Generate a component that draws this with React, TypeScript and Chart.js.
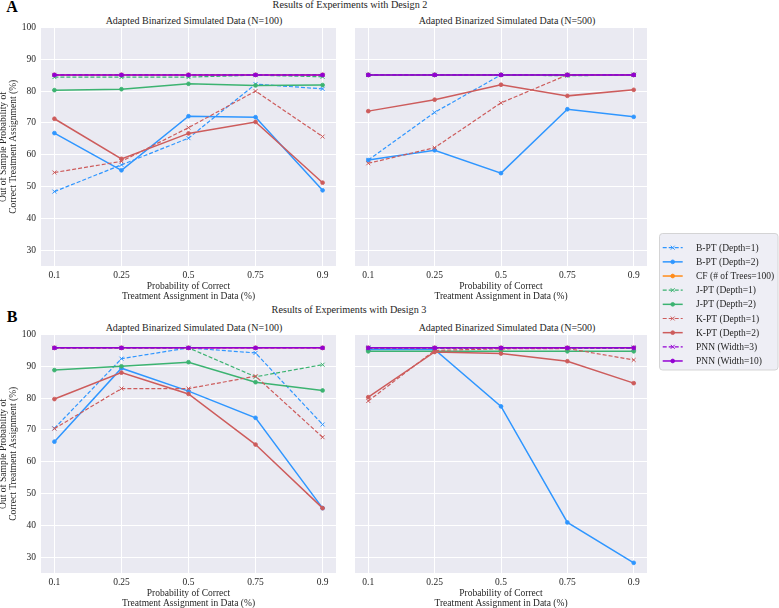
import { useEffect, useRef } from 'react';
import { Chart, registerables } from 'chart.js';

Chart.register(...registerables);

// x categories: probability of correct treatment assignment in the data
const probabilities = ['0.1', '0.25', '0.5', '0.75', '0.9'];
const yTickValues = [30, 40, 50, 60, 70, 80, 90, 100];

// ---- Design 2, N=100 ----
const d2n100BPT1 = [48.4, 56.8, 65.2, 82.2, 80.7];
const d2n100BPT2 = [66.8, 55.1, 72.1, 71.8, 48.8];
const d2n100CF = [85.1, 85.1, 85.1, 85.1, 85.1];
const d2n100JPT1 = [84.4, 84.4, 84.4, 85.0, 84.5];
const d2n100JPT2 = [80.3, 80.6, 82.3, 81.8, 81.9];
const d2n100KPT1 = [54.4, 57.9, 68.5, 80.0, 65.7];
const d2n100KPT2 = [71.3, 58.7, 66.7, 70.3, 51.2];
const d2n100PNN3 = [85.1, 85.1, 85.1, 85.1, 85.1];
const d2n100PNN10 = [85.1, 85.1, 85.1, 85.1, 85.1];

// ---- Design 2, N=500 ----
const d2n500BPT1 = [58.3, 73.3, 85.1, 85.1, 85.1];
const d2n500BPT2 = [58.3, 61.4, 54.2, 74.3, 71.9];
const d2n500CF = [85.1, 85.1, 85.1, 85.1, 85.1];
const d2n500JPT1 = [85.1, 85.1, 85.1, 84.8, 85.1];
const d2n500JPT2 = [85.1, 85.1, 85.1, 85.1, 85.1];
const d2n500KPT1 = [57.3, 62.2, 76.3, 85.1, 85.1];
const d2n500KPT2 = [73.7, 77.3, 82.0, 78.5, 80.4];
const d2n500PNN3 = [85.1, 85.1, 85.1, 85.1, 85.1];
const d2n500PNN10 = [85.1, 85.1, 85.1, 85.1, 85.1];

// ---- Design 3, N=100 ----
const d3n100BPT1 = [70.5, 92.4, 95.8, 94.2, 71.7];
const d3n100BPT2 = [66.3, 89.4, 82.2, 73.8, 45.4];
const d3n100CF = [95.8, 95.8, 95.8, 95.8, 95.8];
const d3n100JPT1 = [95.8, 95.8, 95.8, 86.7, 90.5];
const d3n100JPT2 = [88.8, 90.0, 91.3, 85.0, 82.4];
const d3n100KPT1 = [70.4, 83.0, 83.0, 86.9, 67.7];
const d3n100KPT2 = [79.7, 88.0, 81.3, 65.4, 45.4];
const d3n100PNN3 = [95.8, 95.8, 95.8, 95.8, 95.8];
const d3n100PNN10 = [95.8, 95.8, 95.8, 95.8, 95.8];

// ---- Design 3, N=500 ----
const d3n500BPT1 = [95.8, 95.8, 95.8, 95.8, 95.8];
const d3n500BPT2 = [95.3, 95.3, 77.4, 40.9, 28.2];
const d3n500CF = [95.8, 95.8, 95.8, 95.8, 95.8];
const d3n500JPT1 = [95.6, 95.6, 95.6, 95.6, 95.6];
const d3n500JPT2 = [94.7, 94.7, 94.7, 94.7, 94.7];
const d3n500KPT1 = [79.1, 95.0, 95.5, 95.6, 92.0];
const d3n500KPT2 = [80.3, 94.5, 94.0, 91.6, 84.7];
const d3n500PNN3 = [95.8, 95.8, 95.8, 95.8, 95.8];
const d3n500PNN10 = [95.8, 95.8, 95.8, 95.8, 95.8];

const methodNames = [
  'B-PT (Depth=1)',
  'B-PT (Depth=2)',
  'CF (# of Trees=100)',
  'J-PT (Depth=1)',
  'J-PT (Depth=2)',
  'K-PT (Depth=1)',
  'K-PT (Depth=2)',
  'PNN (Width=3)',
  'PNN (Width=10)',
];

const methodColors = ['#2f96ff', '#2f96ff', '#ff8c1a', '#3cb371', '#3cb371', '#cd5c5c', '#cd5c5c', '#9400d3', '#9400d3'];
const methodDashed = [true, false, false, true, false, true, false, true, false];

const SERIF = '"Liberation Serif", "Times New Roman", serif';
const TEXT = '#262626';
const FACE = '#eaeaf2';

function buildDatasets(series: number[][]) {
  return series.map((values, i) => {
    const dashed = methodDashed[i];
    return {
      label: methodNames[i],
      data: values.map((v, j) => ({ x: j, y: v })),
      borderColor: methodColors[i],
      backgroundColor: methodColors[i],
      pointBackgroundColor: methodColors[i],
      pointBorderColor: methodColors[i],
      borderWidth: dashed ? 1.2 : 1.5,
      borderDash: dashed ? [4, 2] : [],
      pointStyle: dashed ? 'crossRot' : 'circle',
      pointRadius: dashed ? 2.8 : 1.9,
      pointBorderWidth: dashed ? 1 : 0.8,
      tension: 0,
      fill: false,
      order: series.length - i,
    };
  });
}

// paints the axes face behind grid and lines
const facePlugin = {
  id: 'axesFace',
  beforeDraw(chart: any) {
    const { ctx, chartArea } = chart;
    ctx.save();
    ctx.fillStyle = FACE;
    ctx.fillRect(chartArea.left, chartArea.top, chartArea.right - chartArea.left, chartArea.bottom - chartArea.top);
    ctx.restore();
  },
};

type PanelProps = {
  left: number;
  top: number;
  width: number;
  height: number;
  showY: boolean;
  series: number[][];
};

function Panel({ left, top, width, height, showY, series }: PanelProps) {
  const ref = useRef<HTMLCanvasElement>(null);
  useEffect(() => {
    const font = { family: SERIF, size: 9.5, lineHeight: 1.05 };
    const chart = new Chart(ref.current as HTMLCanvasElement, {
      type: 'line',
      data: { datasets: buildDatasets(series) as any },
      options: {
        animation: false,
        responsive: false,
        maintainAspectRatio: false,
        // top padding is larger than the tick label overhang so every panel gets the same plot area
        layout: { padding: { top: 11.5, right: 3, left: 0, bottom: 0 } },
        plugins: {
          legend: { display: false },
          tooltip: { enabled: false },
          title: { display: false },
        },
        scales: {
          x: {
            type: 'linear',
            min: -0.2,
            max: 4.2,
            afterBuildTicks: (s: any) => {
              s.ticks = probabilities.map((_, i) => ({ value: i }));
            },
            afterFit: (s: any) => {
              s.height = 36;
            },
            ticks: {
              callback: (v: any) => probabilities[Math.round(Number(v))] ?? '',
              font: { family: SERIF, size: 9.5, lineHeight: 1.2 },
              color: TEXT,
              padding: 4,
              maxRotation: 0,
              autoSkip: false,
            },
            grid: { color: '#ffffff', lineWidth: 1, drawTicks: false },
            border: { display: false },
            title: {
              display: true,
              text: ['Probability of Correct', 'Treatment Assignment in Data (%)'],
              font,
              color: TEXT,
              padding: { top: 0, bottom: 1 },
            },
          },
          y: {
            type: 'linear',
            min: 25,
            max: 100,
            afterBuildTicks: (s: any) => {
              s.ticks = yTickValues.map((v) => ({ value: v }));
            },
            afterFit: (s: any) => {
              s.width = showY ? 41 : 2.5;
            },
            ticks: {
              display: showY,
              font: { family: SERIF, size: 9.5, lineHeight: 1.2 },
              color: TEXT,
              padding: 5,
            },
            grid: { color: '#ffffff', lineWidth: 1, drawTicks: false },
            border: { display: false },
            title: {
              display: showY,
              text: ['Out of Sample Probability of', 'Correct Treatment Assignment (%)'],
              font,
              color: TEXT,
              padding: { top: -1, bottom: 0 },
            },
          },
        },
      } as any,
      plugins: [facePlugin],
    });
    return () => chart.destroy();
  }, []);
  return (
    <canvas
      ref={ref}
      width={width}
      height={height}
      style={{ position: 'absolute', left, top, width, height }}
    />
  );
}

// draws the shared legend box with a line sample, marker and label for every method
const legendBoxPlugin = {
  id: 'legendBox',
  afterDraw(chart: any) {
    const { ctx } = chart;
    const datasets = chart.data.datasets;
    ctx.save();
    const x0 = 4.5, y0 = 4.5, w = 118.5, h = 136.5, r = 3;
    ctx.beginPath();
    ctx.moveTo(x0 + r, y0);
    ctx.lineTo(x0 + w - r, y0);
    ctx.quadraticCurveTo(x0 + w, y0, x0 + w, y0 + r);
    ctx.lineTo(x0 + w, y0 + h - r);
    ctx.quadraticCurveTo(x0 + w, y0 + h, x0 + w - r, y0 + h);
    ctx.lineTo(x0 + r, y0 + h);
    ctx.quadraticCurveTo(x0, y0 + h, x0, y0 + h - r);
    ctx.lineTo(x0, y0 + r);
    ctx.quadraticCurveTo(x0, y0, x0 + r, y0);
    ctx.closePath();
    ctx.fillStyle = 'rgba(234,234,242,0.8)';
    ctx.fill();
    ctx.strokeStyle = '#cccccc';
    ctx.lineWidth = 0.8;
    ctx.stroke();

    datasets.forEach((ds: any, i: number) => {
      const y = 18.7 + i * 14.16;
      ctx.strokeStyle = ds.borderColor;
      ctx.fillStyle = ds.borderColor;
      ctx.lineWidth = ds.borderWidth;
      ctx.setLineDash(ds.borderDash);
      ctx.beginPath();
      ctx.moveTo(7.7, y);
      ctx.lineTo(27.7, y);
      ctx.stroke();
      ctx.setLineDash([]);
      const cx = 17.7;
      if (ds.pointStyle === 'circle') {
        ctx.beginPath();
        ctx.arc(cx, y, ds.pointRadius, 0, Math.PI * 2);
        ctx.fill();
        ctx.lineWidth = ds.pointBorderWidth;
        ctx.stroke();
      } else {
        const d = ds.pointRadius * Math.SQRT1_2;
        ctx.lineWidth = ds.pointBorderWidth;
        ctx.beginPath();
        ctx.moveTo(cx - d, y - d);
        ctx.lineTo(cx + d, y + d);
        ctx.moveTo(cx - d, y + d);
        ctx.lineTo(cx + d, y - d);
        ctx.stroke();
      }
      ctx.fillStyle = TEXT;
      ctx.font = `9.5px ${SERIF}`;
      ctx.textBaseline = 'middle';
      ctx.textAlign = 'left';
      ctx.fillText(ds.label, 41, y + 0.5);
    });
    ctx.restore();
  },
};

function LegendChart() {
  const ref = useRef<HTMLCanvasElement>(null);
  useEffect(() => {
    const chart = new Chart(ref.current as HTMLCanvasElement, {
      type: 'line',
      data: { datasets: buildDatasets(methodNames.map(() => [])) as any },
      options: {
        animation: false,
        responsive: false,
        maintainAspectRatio: false,
        plugins: { legend: { display: false }, tooltip: { enabled: false } },
        scales: { x: { display: false }, y: { display: false } },
      } as any,
      plugins: [legendBoxPlugin],
    });
    return () => chart.destroy();
  }, []);
  return (
    <canvas
      ref={ref}
      width={124}
      height={145}
      style={{ position: 'absolute', left: 655, top: 228.5, width: 124, height: 145 }}
    />
  );
}

function Label({ x, y, text, size = 10, bold = false }: { x: number; y: number; text: string; size?: number; bold?: boolean }) {
  return (
    <div
      style={{
        position: 'absolute',
        left: x,
        top: y,
        transform: 'translate(-50%, -50%)',
        whiteSpace: 'nowrap',
        fontFamily: SERIF,
        fontSize: size,
        fontWeight: bold ? 'bold' : 'normal',
        lineHeight: 1,
        color: bold ? '#000' : TEXT,
      }}
    >
      {text}
    </div>
  );
}

// vertical distance between the two rows of panels
const ROW_B = 307;
const PANEL_TOP = 16;
const PANEL_H = 286;

export default function App() {
  return (
    <div
      style={{
        position: 'fixed',
        left: 0,
        top: 0,
        width: 779,
        height: 608,
        overflow: 'hidden',
        background: '#ffffff',
      }}
    >
      <Label x={12} y={7} text="A" size={16} bold />
      <Label x={350} y={5} text="Results of Experiments with Design 2" size={10.2} />
      <Label x={194} y={21} text="Adapted Binarized Simulated Data (N=100)" />
      <Label x={507} y={21} text="Adapted Binarized Simulated Data (N=500)" />
      <Panel
        left={0}
        top={PANEL_TOP}
        width={341}
        height={PANEL_H}
        showY
        series={[d2n100BPT1, d2n100BPT2, d2n100CF, d2n100JPT1, d2n100JPT2, d2n100KPT1, d2n100KPT2, d2n100PNN3, d2n100PNN10]}
      />
      <Panel
        left={350}
        top={PANEL_TOP}
        width={302}
        height={PANEL_H}
        showY={false}
        series={[d2n500BPT1, d2n500BPT2, d2n500CF, d2n500JPT1, d2n500JPT2, d2n500KPT1, d2n500KPT2, d2n500PNN3, d2n500PNN10]}
      />

      <Label x={12} y={317} text="B" size={16} bold />
      <Label x={349} y={310} text="Results of Experiments with Design 3" size={10.2} />
      <Label x={194} y={327.5} text="Adapted Binarized Simulated Data (N=100)" />
      <Label x={507} y={327.5} text="Adapted Binarized Simulated Data (N=500)" />
      <Panel
        left={0}
        top={PANEL_TOP + ROW_B}
        width={341}
        height={PANEL_H}
        showY
        series={[d3n100BPT1, d3n100BPT2, d3n100CF, d3n100JPT1, d3n100JPT2, d3n100KPT1, d3n100KPT2, d3n100PNN3, d3n100PNN10]}
      />
      <Panel
        left={350}
        top={PANEL_TOP + ROW_B}
        width={302}
        height={PANEL_H}
        showY={false}
        series={[d3n500BPT1, d3n500BPT2, d3n500CF, d3n500JPT1, d3n500JPT2, d3n500KPT1, d3n500KPT2, d3n500PNN3, d3n500PNN10]}
      />

      <LegendChart />
    </div>
  );
}
